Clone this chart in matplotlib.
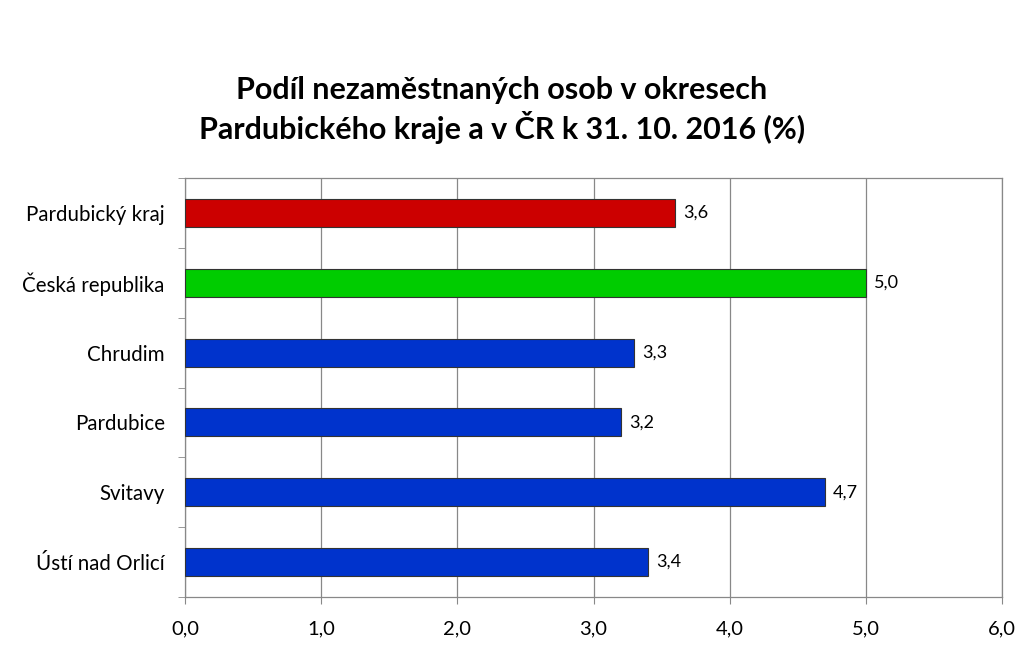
import matplotlib
matplotlib.use("Agg")
import matplotlib.pyplot as plt

categories = ["Pardubický kraj", "Česká republika", "Chrudim", "Pardubice", "Svitavy", "Ústí nad Orlicí"]
values = [3.6, 5.0, 3.3, 3.2, 4.7, 3.4]
colors = ["#CC0000", "#00CC00", "#0033CC", "#0033CC", "#0033CC", "#0033CC"]
xticks = [0, 1, 2, 3, 4, 5, 6]
title = "Podíl nezaměstnaných osob v okresech\nPardubického kraje a v ČR k 31. 10. 2016 (%)"

plt.rcParams['font.family'] = ['Lato', 'DejaVu Sans']

fig = plt.figure(figsize=(10.24, 6.62), dpi=100)
ax = fig.add_axes([185/1024, 1-597/662, (1002-185)/1024, (597-178)/662])

y = list(range(len(categories)))
ax.barh(y, values, height=0.4, color=colors, edgecolor="#333333", linewidth=0.8, zorder=3)
for yi, v in zip(y, values):
    ax.text(v + 0.06, yi, f"{v:.1f}".replace(".", ","), va="center", ha="left", fontsize=13, color="black")

ax.set_xlim(0, 6)
ax.set_ylim(len(categories) - 0.5, -0.5)
ax.set_xticks(xticks)
ax.set_xticklabels([f"{t:.1f}".replace(".", ",") for t in xticks], fontsize=14.5)
ax.set_yticks(y)
ax.set_yticklabels(categories, fontsize=14.8)
ax.set_yticks([i - 0.5 for i in range(len(categories) + 1)], minor=True)
ax.tick_params(axis="y", which="major", length=0, pad=14.5)
ax.tick_params(axis="y", which="minor", length=5, color="#888888", direction="out")
ax.tick_params(axis="x", which="major", length=5, color="#888888", direction="out", pad=12)
ax.grid(axis="x", color="#888888", linewidth=0.9, zorder=0)
for s in ax.spines.values():
    s.set_color("#888888")
    s.set_linewidth(0.9)

fig.text(0.49, 1-110/662, title, ha="center", va="center", fontsize=22, fontweight="bold", linespacing=1.25)

fig.savefig("out.png", dpi=100)
